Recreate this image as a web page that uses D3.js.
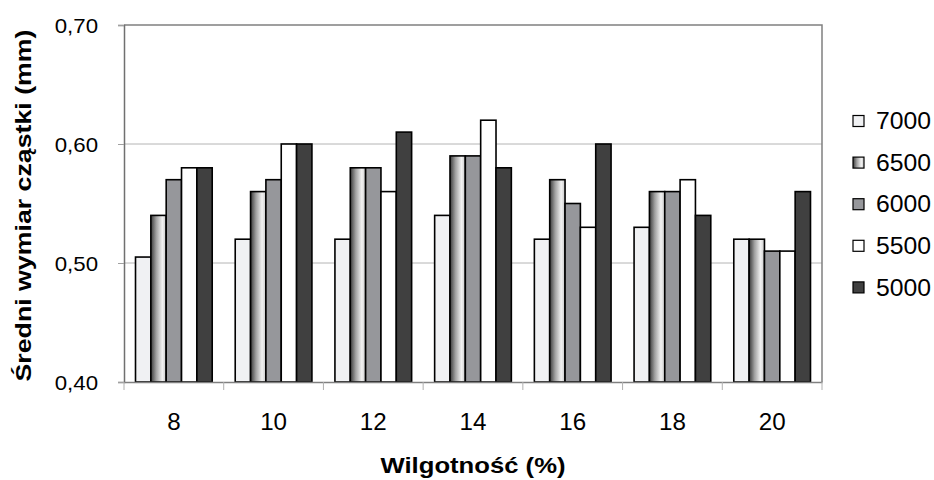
<!DOCTYPE html>
<html><head><meta charset="utf-8">
<script src="https://cdn.jsdelivr.net/npm/d3@7"></script>
<style>body{margin:0;background:#fff;}svg{display:block;font-family:"Liberation Sans",Arial,sans-serif;}</style>
</head><body>
<svg id="c" width="934" height="480"></svg>
<script>
const categories = ["8","10","12","14","16","18","20"];
const seriesNames = ["7000","6500","6000","5500","5000"];
const s7000 = [0.505,0.52,0.52,0.54,0.52,0.53,0.52];
const s6500 = [0.54,0.56,0.58,0.59,0.57,0.56,0.52];
const s6000 = [0.57,0.57,0.58,0.59,0.55,0.56,0.51];
const s5500 = [0.58,0.60,0.56,0.62,0.53,0.57,0.51];
const s5000 = [0.58,0.60,0.61,0.58,0.60,0.54,0.56];
const yTicks = [0.40,0.50,0.60,0.70];
const seriesValues = [s7000,s6500,s6000,s5500,s5000];
const fills = ["#f0f1f3","url(#grad6500)","#96979b","#ffffff","#404040"];

const svg = d3.select("#c");
const m = {l:124, r:822, t:25, b:382};
const defs = svg.append("defs");
const g = defs.append("linearGradient").attr("id","grad6500").attr("x1","0%").attr("x2","100%").attr("y1","0%").attr("y2","0%");
g.append("stop").attr("offset","0%").attr("stop-color","#3a3a3a");
g.append("stop").attr("offset","35%").attr("stop-color","#a0a0a0");
g.append("stop").attr("offset","75%").attr("stop-color","#f2f2f2");
g.append("stop").attr("offset","100%").attr("stop-color","#c8c8c8");

function stretch(sel, f){
  sel.each(function(){
    const w = this.getComputedTextLength();
    d3.select(this).attr("textLength", w*f).attr("lengthAdjust","spacingAndGlyphs");
  });
}
function fitTo(sel, L){
  sel.attr("textLength", L).attr("lengthAdjust","spacingAndGlyphs");
}

const x0 = d3.scaleBand().domain(categories).range([m.l,m.r]).paddingInner(0).paddingOuter(0);
const inner = x0.bandwidth()*5/6.5;
const x1 = d3.scaleBand().domain(seriesNames).range([0,inner]);
const y = d3.scaleLinear().domain([0.40,0.70]).range([m.b,m.t]);

// gridlines
svg.append("g").selectAll("line").data(yTicks.slice(1,3)).join("line")
  .attr("x1",m.l).attr("x2",m.r).attr("y1",d=>y(d)).attr("y2",d=>y(d))
  .attr("stroke","#b4b4b4").attr("stroke-width",1);
// frame top/right
svg.append("path").attr("d",`M${m.l},${m.t}H${m.r}V${m.b}`).attr("fill","none").attr("stroke","#808080").attr("stroke-width",1.5);

// bars
categories.forEach((c,i)=>{
  const off = x0(c) + (x0.bandwidth()-inner)/2;
  seriesNames.forEach((s,j)=>{
    const v = seriesValues[j][i];
    svg.append("rect").attr("x",off+x1(s)).attr("y",y(v)).attr("width",x1.bandwidth()).attr("height",y(0.40)-y(v))
      .attr("fill",fills[j]).attr("stroke","#000").attr("stroke-width",1.6);
  });
});

// y axis
const ya = svg.append("g").attr("transform",`translate(${m.l},0)`)
  .call(d3.axisLeft(y).tickValues(yTicks).tickSize(6).tickPadding(20).tickFormat(d=>d3.format(".2f")(d).replace(".",",")));
ya.attr("font-family",null).attr("font-size",null);
ya.select(".domain").attr("stroke","#707070").attr("stroke-width",1.5);
ya.selectAll(".tick line").attr("stroke","#a0a0a0");
ya.selectAll("text").attr("font-size",21).attr("fill","#000").attr("dy","0.36em");
stretch(ya.selectAll("text"), 1.06);

// x axis
const xa = svg.append("g").attr("transform",`translate(0,${m.b})`)
  .call(d3.axisBottom(x0).tickSize(0).tickPadding(30));
xa.attr("font-family",null).attr("font-size",null);
xa.select(".domain").attr("stroke","#808080").attr("stroke-width",1.5);
xa.selectAll("text").attr("font-size",23).attr("fill","#000").attr("dy","0.36em").attr("y",40);
stretch(xa.selectAll("text"), 1.05);
// category separators ticks
svg.append("g").selectAll("line").data(categories.concat(["end"])).join("line")
  .attr("x1",(d,i)=>m.l+i*x0.bandwidth()).attr("x2",(d,i)=>m.l+i*x0.bandwidth())
  .attr("y1",m.b).attr("y2",m.b+8).attr("stroke","#b0b0b0");

// titles
const xt = svg.append("text").attr("x",(m.l+m.r)/2).attr("y",473).attr("text-anchor","middle")
  .attr("font-size",22).attr("font-weight","bold").text("Wilgotność (%)");
fitTo(xt, 185);
const yt = svg.append("text").attr("transform",`translate(31,${(m.t+m.b)/2+2}) rotate(-90)`).attr("text-anchor","middle")
  .attr("font-size",22).attr("font-weight","bold").text("Średni wymiar cząstki (mm)");
fitTo(yt, 352);

// legend
const lg = svg.append("g");
seriesNames.forEach((s,j)=>{
  const cy = 121 + j*41.6;
  lg.append("rect").attr("x",853).attr("y",cy-5.5).attr("width",11).attr("height",11)
    .attr("fill",fills[j]).attr("stroke","#000").attr("stroke-width",1.2);
  const t = lg.append("text").attr("x",876).attr("y",cy).attr("dy","0.36em").attr("font-size",23).text(s);
  fitTo(t, 55);
});
</script>
</body></html>
